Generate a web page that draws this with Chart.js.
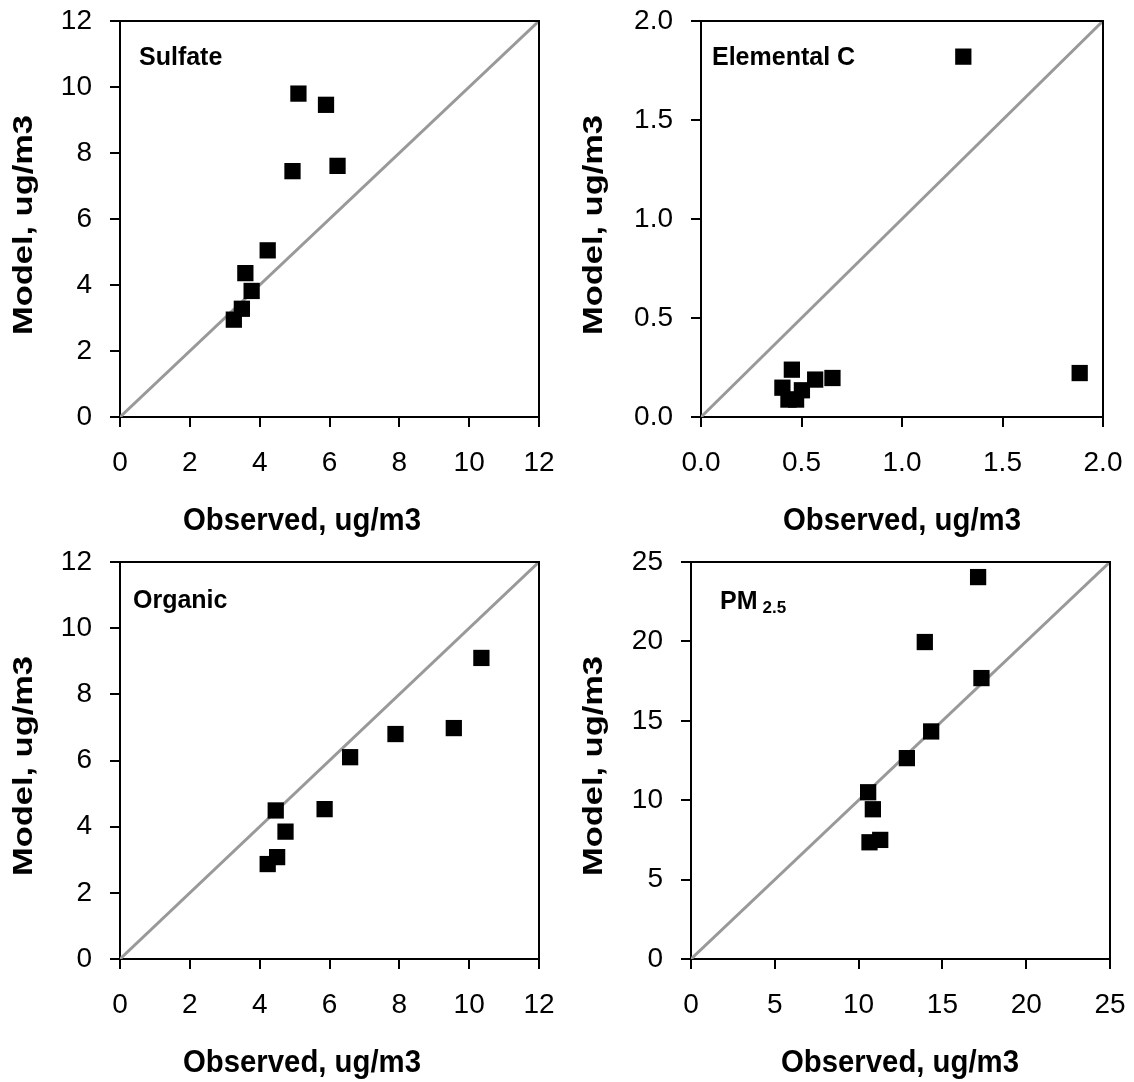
<!DOCTYPE html>
<html lang="en">
<head>
<meta charset="UTF-8">
<title>Model vs Observed</title>
<script src="https://cdn.jsdelivr.net/npm/chart.js"></script>
<style>
  html, body { margin: 0; padding: 0; background: #fff; }
  #wrap { position: relative; width: 1134px; height: 1082px; }
  .panel { position: absolute; width: 567px; height: 541px; }
</style>
</head>
<body>
<div id="wrap">
  <div class="panel" style="left:0;top:0"><canvas id="c1"></canvas></div>
  <div class="panel" style="left:567px;top:0"><canvas id="c2"></canvas></div>
  <div class="panel" style="left:0;top:541px"><canvas id="c3"></canvas></div>
  <div class="panel" style="left:567px;top:541px"><canvas id="c4"></canvas></div>
</div>
<script>
// values (observed, model)
const sulfateObs = [5.11, 5.90, 4.94, 6.23, 4.23, 3.59, 3.77, 3.49, 3.26];
const sulfateMod = [9.80, 9.46, 7.45, 7.61, 5.05, 4.36, 3.82, 3.28, 2.95];
const ecObs = [1.305, 1.884, 0.452, 0.568, 0.654, 0.405, 0.502, 0.435, 0.473];
const ecMod = [1.82, 0.222, 0.239, 0.189, 0.197, 0.148, 0.135, 0.088, 0.088];
const orgObs = [10.35, 9.56, 7.89, 6.59, 5.86, 4.46, 4.74, 4.50, 4.23];
const orgMod = [9.10, 6.98, 6.80, 6.10, 4.53, 4.49, 3.85, 3.08, 2.87];
const pmObs = [17.13, 13.95, 17.33, 14.33, 12.88, 10.57, 10.85, 10.65, 11.29];
const pmMod = [24.05, 19.96, 17.69, 14.33, 12.65, 10.50, 9.43, 7.35, 7.50];

// axis ticks
const ticks12 = [0, 2, 4, 6, 8, 10, 12];
const ticks2 = [0, 0.5, 1.0, 1.5, 2.0];
const ticks25 = [0, 5, 10, 15, 20, 25];

const xTitle = 'Observed, ug/m3';
const yTitle = 'Model, ug/m3';

const W = 567, H = 541;
const FONT = "'Liberation Sans', Arial, sans-serif";

const panels = [
  { id: 'c1', name: 'Sulfate', obs: sulfateObs, mod: sulfateMod, ticks: ticks12, dec: 0,
    area: { left: 120, top: 21, right: 539, bottom: 417 }, nameAt: [139, 65], xt: [302, 530], yt: [32, 225] },
  { id: 'c2', name: 'Elemental C', obs: ecObs, mod: ecMod, ticks: ticks2, dec: 1,
    area: { left: 134, top: 21, right: 536, bottom: 417 }, nameAt: [145, 65], xt: [335, 530], yt: [35, 225] },
  { id: 'c3', name: 'Organic', obs: orgObs, mod: orgMod, ticks: ticks12, dec: 0,
    area: { left: 120, top: 21, right: 539, bottom: 418 }, nameAt: [133, 67], xt: [302, 531], yt: [32, 225] },
  { id: 'c4', name: 'PM', sub: '2.5', obs: pmObs, mod: pmMod, ticks: ticks25, dec: 0,
    area: { left: 124, top: 21, right: 543, bottom: 418 }, nameAt: [153, 68], xt: [333, 531], yt: [35, 225] }
];

// draws text centred at (x, y baseline), squeezed/stretched to a given length
function fitText(ctx, text, x, y, font, len, angle) {
  ctx.save();
  ctx.font = font;
  const w = ctx.measureText(text).width;
  ctx.translate(x, y);
  ctx.rotate(angle);
  ctx.scale(len / w, 1);
  ctx.textAlign = 'center';
  ctx.textBaseline = 'alphabetic';
  ctx.fillStyle = '#000';
  ctx.fillText(text, 0, 0);
  ctx.restore();
}

const frame = {
  id: 'frame',
  afterDraw(chart, args, o) {
    const ctx = chart.ctx, a = chart.chartArea;
    ctx.save();
    ctx.strokeStyle = '#000';
    ctx.lineWidth = 2;
    ctx.beginPath();
    ctx.moveTo(a.left, a.top);
    ctx.lineTo(a.right, a.top);
    ctx.lineTo(a.right, a.bottom);
    ctx.stroke();

    ctx.fillStyle = '#000';
    ctx.textBaseline = 'alphabetic';
    ctx.textAlign = 'left';
    ctx.font = 'bold 25px ' + FONT;
    ctx.fillText(o.p.name, o.p.nameAt[0], o.p.nameAt[1]);
    if (o.p.sub) {
      const w = ctx.measureText(o.p.name).width;
      ctx.font = 'bold 17px ' + FONT;
      ctx.fillText(o.p.sub, o.p.nameAt[0] + w + 5, o.p.nameAt[1] + 4);
    }
    ctx.restore();

    fitText(ctx, xTitle, o.p.xt[0], o.p.xt[1], 'bold 31px ' + FONT, 238, 0);
    fitText(ctx, yTitle, o.p.yt[0], o.p.yt[1], 'bold 28px ' + FONT, 220, -Math.PI / 2);
  }
};

panels.forEach(p => {
  const max = p.ticks[p.ticks.length - 1];
  const tickOpts = {
    autoSkip: false,
    maxRotation: 0,
    color: '#000',
    font: { family: FONT, size: 28 },
    callback: v => Number(v).toFixed(p.dec)
  };
  const gridOpts = { drawOnChartArea: false, drawTicks: true, tickLength: 10, color: '#000', lineWidth: 2 };

  new Chart(document.getElementById(p.id), {
    type: 'scatter',
    data: {
      datasets: [
        {
          data: p.obs.map((x, i) => ({ x, y: p.mod[i] })),
          pointStyle: 'rect',
          pointRadius: 11.5,
          pointBorderWidth: 0,
          backgroundColor: '#000',
          borderColor: '#000'
        },
        {
          data: [{ x: 0, y: 0 }, { x: max, y: max }],
          showLine: true,
          pointRadius: 0,
          borderColor: '#999',
          borderWidth: 3
        }
      ]
    },
    options: {
      responsive: true,
      maintainAspectRatio: false,
      animation: false,
      layout: { padding: { left: 0, top: p.area.top, right: W - p.area.right, bottom: 0 } },
      plugins: { legend: { display: false }, tooltip: { enabled: false }, frame: { p } },
      scales: {
        x: {
          type: 'linear', min: 0, max,
          afterBuildTicks: s => { s.ticks = p.ticks.map(value => ({ value })); },
          afterFit: s => { s.height = H - p.area.bottom; s.paddingLeft = 0; s.paddingRight = 0; },
          ticks: { ...tickOpts, padding: 19 },
          grid: gridOpts,
          border: { display: true, color: '#000', width: 2 }
        },
        y: {
          type: 'linear', min: 0, max,
          afterBuildTicks: s => { s.ticks = p.ticks.map(value => ({ value })); },
          afterFit: s => { s.width = p.area.left; s.paddingTop = 0; s.paddingBottom = 0; },
          ticks: { ...tickOpts, padding: 18 },
          grid: gridOpts,
          border: { display: true, color: '#000', width: 2 }
        }
      }
    },
    plugins: [frame]
  });
});
</script>
</body>
</html>
